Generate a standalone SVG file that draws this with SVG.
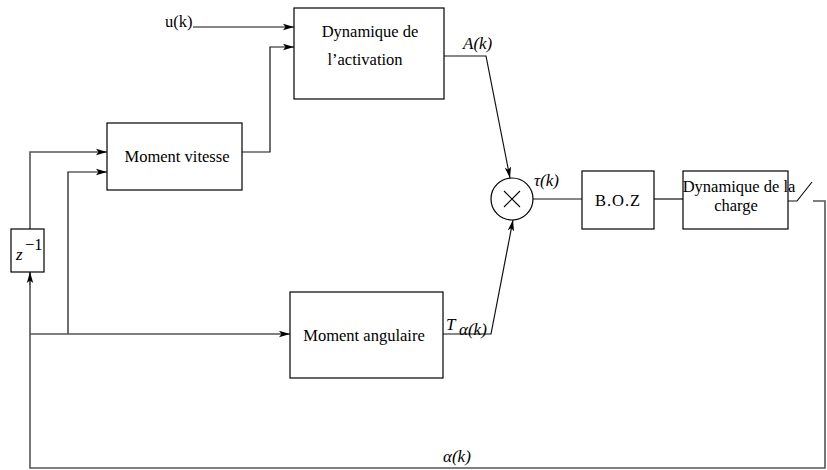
<svg xmlns="http://www.w3.org/2000/svg" width="827" height="470" viewBox="0 0 827 470">
<style>
.box{fill:#fff;stroke:#000;stroke-width:1.2}
.ln{fill:none;stroke:#111;stroke-width:1.2}
.fb{fill:none;stroke:#555;stroke-width:1.6}
.t{font-family:"Liberation Serif","Times New Roman",serif;font-size:16.5px;fill:#000}
.m{font-family:"Liberation Serif","Times New Roman",serif;font-style:italic;font-size:17px;fill:#000}
</style>
<defs>
<marker id="ar" markerWidth="12" markerHeight="8" refX="11" refY="4" orient="auto" markerUnits="userSpaceOnUse">
<path d="M0,0.8 L11,4 L0,7.2 L2.5,4 Z" fill="#000"/>
</marker>
</defs>
<rect width="827" height="470" fill="#fff"/>
<g id="connectors">
<path class="ln" d="M193,27 H294" marker-end="url(#ar)"/>
<path class="ln" d="M242,152 H270 V47 H294" marker-end="url(#ar)"/>
<path class="fb" d="M30,229 V152 H107" marker-end="url(#ar)"/>
<path class="ln" d="M68,334 V172 H107" marker-end="url(#ar)"/>
<path class="fb" d="M30,334 H290" marker-end="url(#ar)"/>
<path class="ln" d="M444,56 H486 L510,178" marker-end="url(#ar)"/>
<path class="ln" d="M443,334 H491 L513,220" marker-end="url(#ar)"/>
<path class="ln" d="M533,199 H582"/>
<path class="ln" d="M654,199 H683"/>
<path class="ln" d="M788,201 H797 L812,182"/>
<path class="fb" d="M813,201 H825 V468 H30 V272"/>
<path class="fb" d="M30,285 V272" marker-end="url(#ar)"/>
</g>
<g id="dyn-activation">
<rect class="box" x="294" y="8" width="150" height="91"/>
<text class="t" x="370" y="37" text-anchor="middle">Dynamique de</text>
<text class="t" x="365" y="65" text-anchor="middle">l’activation</text>
</g>
<g id="moment-vitesse">
<rect class="box" x="107" y="123" width="135" height="67"/>
<text class="t" x="177" y="162" text-anchor="middle">Moment vitesse</text>
</g>
<g id="moment-angulaire">
<rect class="box" x="290" y="292" width="153" height="86"/>
<text class="t" x="364" y="341" text-anchor="middle">Moment angulaire</text>
</g>
<g id="z-inv">
<rect class="box" x="11" y="229" width="33" height="43"/>
<text class="m" x="16" y="260" fill="#333">z</text>
<text class="t" x="25" y="250" font-size="12">−1</text>
</g>
<g id="mult">
<circle cx="512" cy="199" r="21" fill="#fff" stroke="#000" stroke-width="1.2"/>
<path d="M504,191 L520,207 M520,191 L504,207" stroke="#000" stroke-width="1.1"/>
</g>
<g id="boz">
<rect class="box" x="582" y="171" width="72" height="58"/>
<text class="t" x="618" y="206" text-anchor="middle" font-size="21" letter-spacing="1">B.O.Z</text>
</g>
<g id="dyn-charge">
<rect class="box" x="683" y="171" width="105" height="58"/>
<text class="t" x="739" y="192" text-anchor="middle">Dynamique de la</text>
<text class="t" x="736" y="211" text-anchor="middle">charge</text>
</g>
<g id="labels">
<text class="t" x="165" y="27" font-size="17">u(k)</text>
<text class="m" x="463" y="49">A(k)</text>
<text class="m" x="534" y="186">τ(k)</text>
<text class="m" x="446" y="330">T</text>
<text class="m" x="459" y="335" font-size="10.5">α(k)</text>
<text class="m" x="443" y="462">α(k)</text>
</g>
</svg>
